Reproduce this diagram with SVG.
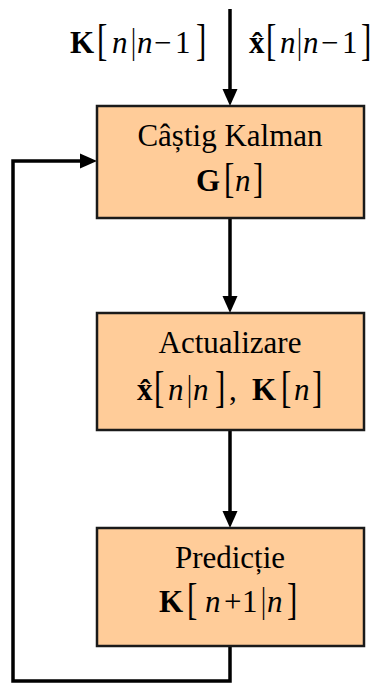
<svg xmlns="http://www.w3.org/2000/svg" width="375" height="684" viewBox="0 0 375 684">
<style>
.box{fill:#FFCC99;stroke:#1a1a1a;stroke-width:2.5}
.t{font-family:"Liberation Serif","Times New Roman",serif;font-size:31px;fill:#000}
.b{font-weight:bold}
.i{font-style:italic}
.conn{fill:none;stroke:#000;stroke-width:3.5}
</style>
<defs>
<marker id="ah" markerUnits="userSpaceOnUse" markerWidth="17" markerHeight="16" refX="7" refY="8" orient="auto">
<path d="M0,0.5 L17,8 L0,15.5 z" fill="#000"/>
</marker>
</defs>
<g id="connectors">
<line class="conn" x1="230" y1="9" x2="230" y2="96" marker-end="url(#ah)"/>
<line class="conn" x1="230" y1="218" x2="230" y2="303" marker-end="url(#ah)"/>
<line class="conn" x1="230" y1="430" x2="230" y2="518" marker-end="url(#ah)"/>
<path class="conn" d="M230,646 V681 H13 V161 H87" marker-end="url(#ah)"/>
</g>
<g id="label-K-prior">
<text class="t b" x="70" y="53">K</text>
<text class="t" transform="translate(97,54.5) scale(1,1.45)">[</text>
<text class="t i" x="112" y="53">n</text>
<text class="t" transform="translate(131,53) scale(0.8,1.15)">|</text>
<text class="t i" x="137" y="53">n</text>
<text class="t" x="154" y="53">−</text>
<text class="t" x="175" y="53">1</text>
<text class="t" transform="translate(196,54.5) scale(1,1.45)">]</text>
</g>
<g id="label-x-prior">
<text class="t b" x="249" y="53">x̂</text>
<text class="t" transform="translate(266,54.5) scale(1,1.45)">[</text>
<text class="t i" x="280" y="53">n</text>
<text class="t" transform="translate(297,53) scale(0.8,1.15)">|</text>
<text class="t i" x="303" y="53">n</text>
<text class="t" x="321" y="53">−</text>
<text class="t" x="342" y="53">1</text>
<text class="t" transform="translate(361,54.5) scale(1,1.45)">]</text>
</g>
<g id="node-castig">
<rect class="box" x="97" y="106" width="267" height="112"/>
<text class="t" x="230" y="146" text-anchor="middle">Câștig Kalman</text>
<text class="t b" x="196" y="191">G</text>
<text class="t" transform="translate(224,192) scale(1,1.35)">[</text>
<text class="t i" x="235" y="191">n</text>
<text class="t" transform="translate(253,192) scale(1,1.35)">]</text>
</g>
<g id="node-actualizare">
<rect class="box" x="97" y="313" width="267" height="117"/>
<text class="t" x="230" y="353" text-anchor="middle">Actualizare</text>
<text class="t b" x="137" y="400">x̂</text>
<text class="t" transform="translate(154,401.5) scale(1,1.45)">[</text>
<text class="t i" x="168" y="400">n</text>
<text class="t" transform="translate(187,400) scale(0.8,1.15)">|</text>
<text class="t i" x="193" y="400">n</text>
<text class="t" transform="translate(215,401.5) scale(1,1.45)">]</text>
<text class="t" x="229" y="400">,</text>
<text class="t b" x="252" y="400">K</text>
<text class="t" transform="translate(281,401.5) scale(1,1.45)">[</text>
<text class="t i" x="294" y="400">n</text>
<text class="t" transform="translate(312,401.5) scale(1,1.45)">]</text>
</g>
<g id="node-predictie">
<rect class="box" x="97" y="528" width="267" height="118"/>
<text class="t" x="230" y="568" text-anchor="middle">Predicție</text>
<text class="t b" x="159" y="612">K</text>
<text class="t" transform="translate(187,613.5) scale(1,1.45)">[</text>
<text class="t i" x="205" y="612">n</text>
<text class="t" x="224" y="612">+</text>
<text class="t" x="242" y="612">1</text>
<text class="t" transform="translate(261,612) scale(0.8,1.15)">|</text>
<text class="t i" x="267" y="612">n</text>
<text class="t" transform="translate(287,613.5) scale(1,1.45)">]</text>
</g>
</svg>
